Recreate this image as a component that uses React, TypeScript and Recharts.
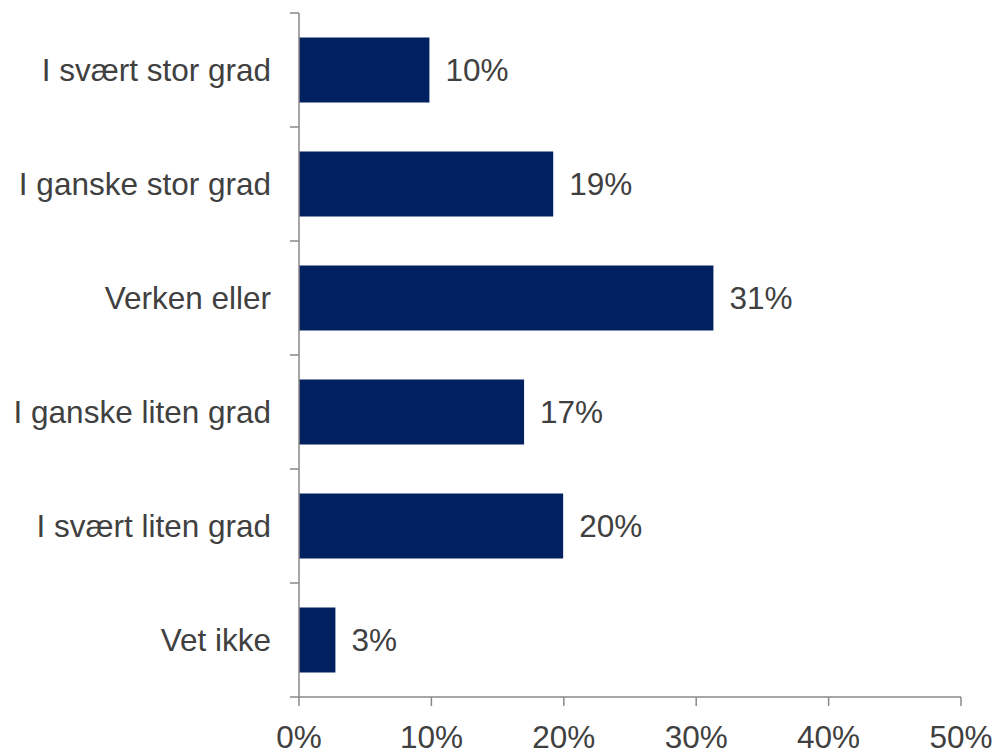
import { BarChart, Bar, XAxis, YAxis, LabelList } from "recharts";

const categories = [
  "I svært stor grad",
  "I ganske stor grad",
  "Verken eller",
  "I ganske liten grad",
  "I svært liten grad",
  "Vet ikke",
];
const shares = [9.85, 19.2, 31.3, 17.0, 19.95, 2.75];
const xTicks = [0, 10, 20, 30, 40, 50];

const data = categories.map((name, i) => ({ name, value: shares[i] }));

const AXIS_X = 299;
const AXIS_COLOR = "#898989";
const TEXT_COLOR = "#404040";
const FONT = "'Liberation Sans', Arial, sans-serif";
const FONT_SIZE = 31.5;

function CategoryTick(props: any) {
  const { y, payload, index, visibleTicksCount } = props;
  const half = payload.offset ?? 57;
  const last = index === visibleTicksCount - 1;
  return (
    <g>
      <text
        x={AXIS_X - 28}
        y={y}
        textAnchor="end"
        dominantBaseline="central"
        fill={TEXT_COLOR}
        fontSize={FONT_SIZE}
        fontFamily={FONT}
      >
        {payload.value}
      </text>
      <line x1={AXIS_X - 9} x2={AXIS_X} y1={y - half} y2={y - half} stroke={AXIS_COLOR} strokeWidth={1.5} />
      {last && (
        <line x1={AXIS_X - 9} x2={AXIS_X} y1={y + half} y2={y + half} stroke={AXIS_COLOR} strokeWidth={1.5} />
      )}
    </g>
  );
}

export default function App() {
  return (
    <div style={{ position: "absolute", left: 0, top: 0, background: "#fff" }}>
      <BarChart
        width={996}
        height={749}
        data={data}
        layout="vertical"
        margin={{ top: 13, right: 35, left: 0, bottom: 0 }}
        barCategoryGap="21.5%"
      >
        <XAxis
          type="number"
          domain={[0, 50]}
          ticks={xTicks}
          tickFormatter={(v) => `${v}%`}
          height={52}
          tickSize={9}
          tickMargin={20}
          stroke={AXIS_COLOR}
          strokeWidth={1.5}
          tick={{ fill: TEXT_COLOR, fontSize: FONT_SIZE, fontFamily: FONT }}
        />
        <YAxis
          type="category"
          dataKey="name"
          width={AXIS_X}
          tickLine={false}
          stroke={AXIS_COLOR}
          strokeWidth={1.5}
          tick={<CategoryTick />}
          interval={0}
        />
        <Bar dataKey="value" fill="#002060" isAnimationActive={false}>
          <LabelList
            dataKey="value"
            position="right"
            offset={16}
            formatter={(v: any) => `${Math.round(v)}%`}
            fill={TEXT_COLOR}
            fontSize={FONT_SIZE}
            fontFamily={FONT}
          />
        </Bar>
      </BarChart>
    </div>
  );
}
